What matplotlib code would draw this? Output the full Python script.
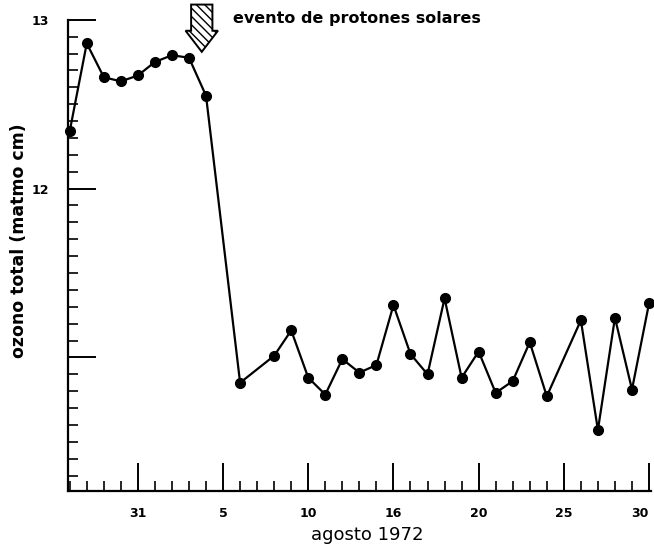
import numpy as np
import matplotlib.pyplot as plt
from matplotlib.patches import FancyArrow
from matplotlib.ticker import MultipleLocator

# dias contados desde el 31 de julio (0 = 31, 5 = 5 de agosto ...)
dias = [-4, -3, -2, -1, 0, 1, 2, 3, 4, 6, 8, 9, 10, 11, 12, 13, 14, 15, 16,
        17, 18, 19, 20, 21, 22, 23, 24, 26, 27, 28, 29, 30]
ozono = [12.34, 12.86, 12.66, 12.635, 12.67, 12.75, 12.79, 12.775, 12.55,
         10.85, 11.01, 11.16, 10.88, 10.78, 10.99, 10.91, 10.955, 11.31, 11.02,
         10.90, 11.35, 10.88, 11.035, 10.79, 10.86, 11.09, 10.77, 11.22, 10.57,
         11.235, 10.81, 11.32]
xticks = [0, 5, 10, 15, 20, 25, 30]
xlabels = ['31', '5', '10', '16', '20', '25', '30']
yticks = [11, 12, 13]
ylabels = ['', '12', '13']

fig = plt.figure(figsize=(6.54, 5.49), dpi=100)
ax = fig.add_axes([0.104, 0.106, 0.891, 0.858])

ax.plot(dias, ozono, '-o', color='black', lw=1.6, ms=7, clip_on=False, zorder=3)

ax.set_xlim(-4.1, 30.1)
ax.set_ylim(10.21, 13.0)
ax.spines['top'].set_visible(False)
ax.spines['right'].set_visible(False)
ax.spines['left'].set_linewidth(1.6)
ax.spines['bottom'].set_linewidth(1.6)

ax.set_xticks(xticks)
ax.set_xticklabels(xlabels, fontsize=9, fontweight='bold')
ax.get_xticklabels()[-1].set_horizontalalignment('right')
ax.xaxis.set_minor_locator(MultipleLocator(1))
ax.set_yticks(yticks)
ax.set_yticklabels(ylabels, fontsize=9, fontweight='bold')
ax.yaxis.set_minor_locator(MultipleLocator(0.1))
ax.tick_params(which='major', direction='in', length=20, width=1.4)
ax.tick_params(which='minor', direction='in', length=7, width=1.2)
ax.tick_params(axis='x', which='major', pad=12)
ax.tick_params(axis='y', which='major', pad=14)

ax.set_ylabel('ozono total (matmo cm)', fontsize=12.5, fontweight='bold')
ax.yaxis.set_label_coords(-0.069, 0.53)
ax.set_xlabel('agosto 1972', fontsize=13)
ax.xaxis.set_label_coords(0.513, -0.074)

# flecha del evento
flecha = FancyArrow(3.75, 13.09, 0, -0.28, width=1.25, head_width=1.9,
                    head_length=0.125, length_includes_head=True,
                    facecolor='white', edgecolor='black', lw=1.4,
                    hatch='\\\\\\\\', clip_on=False, zorder=4)
ax.add_patch(flecha)
ax.text(5.6, 13.01, 'evento de protones solares', fontsize=11.5,
        fontweight='bold', va='center', ha='left')

fig.savefig('out.png')
